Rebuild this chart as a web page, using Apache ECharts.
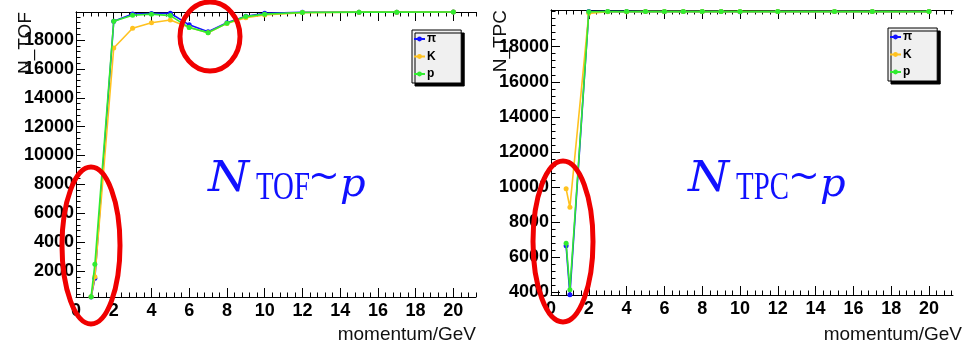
<!DOCTYPE html>
<html>
<head>
<meta charset="utf-8">
<script src="https://cdn.jsdelivr.net/npm/echarts@6/dist/echarts.min.js"></script>
<style>
  html, body { margin: 0; padding: 0; background: #fff; }
  #chart { width: 965px; height: 344px; }
</style>
</head>
<body>
<div id="chart"></div>
<script>
// Momentum points (GeV) shared by every curve
const momentum = [0.8, 1, 2, 3, 4, 5, 6, 7, 8, 9, 10, 12, 15, 17, 20];

// Number of tracks passing the TOF selection
const tofPi = [200, 1500, 19300, 19800, 19830, 19850, 19050, 18580, 19200, 19650, 19850, 19920, 19930, 19930, 19940];
const tofK  = [220, 1600, 17450, 18810, 19200, 19390, 18870, 18500, 19150, 19540, 19730, 19900, 19930, 19930, 19940];
const tofP  = [220, 2460, 19300, 19710, 19790, 19690, 18860, 18510, 19160, 19620, 19790, 19910, 19930, 19930, 19940];

// Number of tracks passing the TPC selection
const tpcPi = [6650, 3870, 20000, 20000, 20000, 20000, 20000, 20000, 20000, 20000, 19990, 20000, 20000, 20000, 20000];
const tpcK  = [9900, 8850, 19900, 19990, 19990, 20000, 20000, 20000, 20000, 20000, 20000, 20000, 20000, 20000, 20000];
const tpcP  = [6800, 4150, 19990, 20000, 20000, 20000, 20000, 20000, 20000, 20000, 20000, 20000, 20000, 20000, 20000];

// Tick labels
const xTicks = [0, 2, 4, 6, 8, 10, 12, 14, 16, 18, 20];
const tofYTicks = [2000, 4000, 6000, 8000, 10000, 12000, 14000, 16000, 18000];
const tpcYTicks = [4000, 6000, 8000, 10000, 12000, 14000, 16000, 18000];

const seriesNames = ['\u03c0', 'K', 'p'];
const seriesColors = ['#1414ff', '#ffc21f', '#30ec30'];

// five minor divisions between consecutive major ticks, kept inside [lo, hi]
function minorTicks(major, lo, hi) {
  const step = (major[1] - major[0]) / 5;
  const out = [];
  const start = major[0] - 5 * step;
  for (let v = start; v <= hi + 1e-9; v += step) {
    const r = Math.round(v * 1000) / 1000;
    if (r < lo || r > hi) continue;
    if (major.some(m => Math.abs(m - r) < 1e-6)) continue;
    out.push(r);
  }
  return out;
}

const labelFont = { fontFamily: 'Liberation Sans', fontSize: 18, fontWeight: 'bold', color: '#000' };
const black = { color: '#000', width: 1 };
const plain = v => String(v);

// ROOT-style frame: ticks on all four sides
function frame(grid, xMax, yMin, yMax, yTicks) {
  const xMin = minorTicks(xTicks, 0, xMax);
  const yMinor = minorTicks(yTicks, yMin, yMax);
  const xBase = { type: 'value', gridIndex: grid, min: 0, max: xMax, splitLine: { show: false } };
  const yBase = { type: 'value', gridIndex: grid, min: yMin, max: yMax, splitLine: { show: false } };
  const xAxes = [
    Object.assign({}, xBase, {
      position: 'bottom', axisLine: { show: true, lineStyle: black },
      axisTick: { show: true, inside: true, length: 9, customValues: xTicks, lineStyle: black },
      axisLabel: Object.assign({ show: true, customValues: xTicks, margin: 5, formatter: plain }, labelFont)
    }),
    Object.assign({}, xBase, {
      position: 'bottom', axisLine: { show: false },
      axisTick: { show: true, inside: true, length: 4.5, customValues: xMin, lineStyle: black },
      axisLabel: { show: false }
    }),
    Object.assign({}, xBase, {
      position: 'top', axisLine: { show: true, lineStyle: black },
      axisTick: { show: true, inside: true, length: 9, customValues: xTicks, lineStyle: black },
      axisLabel: { show: false }
    }),
    Object.assign({}, xBase, {
      position: 'top', axisLine: { show: false },
      axisTick: { show: true, inside: true, length: 4.5, customValues: xMin, lineStyle: black },
      axisLabel: { show: false }
    })
  ];
  const yAxes = [
    Object.assign({}, yBase, {
      position: 'left', axisLine: { show: true, lineStyle: black },
      axisTick: { show: true, inside: true, length: 9, customValues: yTicks, lineStyle: black },
      axisLabel: Object.assign({ show: true, customValues: yTicks, margin: 2, formatter: plain }, labelFont)
    }),
    Object.assign({}, yBase, {
      position: 'left', axisLine: { show: false },
      axisTick: { show: true, inside: true, length: 4.5, customValues: yMinor, lineStyle: black },
      axisLabel: { show: false }
    }),
    Object.assign({}, yBase, {
      position: 'right', axisLine: { show: true, lineStyle: black },
      axisTick: { show: true, inside: false, length: 7, customValues: yTicks, lineStyle: black },
      axisLabel: { show: false }
    }),
    Object.assign({}, yBase, {
      position: 'right', axisLine: { show: false },
      axisTick: { show: true, inside: false, length: 4, customValues: yMinor, lineStyle: black },
      axisLabel: { show: false }
    })
  ];
  return { xAxes, yAxes };
}

const tofFrame = frame(0, 21.2, 200, 19940, tofYTicks);
const tpcFrame = frame(1, 21.27, 3850, 20090, tpcYTicks);

function curves(values, axisOffset) {
  return values.map((vals, i) => ({
    name: seriesNames[i],
    type: 'line',
    xAxisIndex: axisOffset,
    yAxisIndex: axisOffset,
    data: momentum.map((m, k) => [m, vals[k]]),
    symbol: 'circle',
    symbolSize: 5,
    clip: false,
    color: seriesColors[i],
    lineStyle: { width: 1.6, color: seriesColors[i] },
    itemStyle: { color: seriesColors[i] },
    emphasis: { disabled: true },
    z: 2 + i
  }));
}

function legendBox(left, top) {
  return {
    show: true, orient: 'vertical', left: left, top: top,
    data: seriesNames,
    itemWidth: 11, itemHeight: 6, itemGap: 5.5,
    padding: [3, 25, 3, 1],
    backgroundColor: '#f0f0f0', borderColor: '#000', borderWidth: 1,
    shadowColor: '#000', shadowBlur: 0, shadowOffsetX: 3, shadowOffsetY: 3,
    selectedMode: false,
    textStyle: { fontFamily: 'Liberation Sans', fontSize: 12, fontWeight: 'bold', color: '#000', lineHeight: 12, padding: [0, 0, 0, -3] }
  };
}

const axisTitleFont = '19px "Liberation Sans"';
const mathFont = '"DejaVu Serif"';
const romanFont = '"Liberation Serif"';
const mathBlue = '#1010ff';

// N_{sub} ~ p written with an italic N and p and an upright subscript
function formula(x, sub) {
  return [
    { type: 'text', z: 50, x: x, y: 0, scaleX: 1.12,
      style: { x: 0, y: 201, text: 'N', font: 'italic 42px ' + mathFont, fill: mathBlue, verticalAlign: 'bottom' } },
    { type: 'text', z: 50, x: x + 48, y: 0, scaleX: 0.74,
      style: { x: 0, y: 208, text: sub, font: '39px ' + romanFont, fill: mathBlue, verticalAlign: 'bottom' } },
    { type: 'text', z: 50, style: { x: x + 100, y: 197, text: '~', font: '38px ' + mathFont, fill: mathBlue, verticalAlign: 'bottom' } },
    { type: 'text', z: 50, style: { x: x + 132, y: 206, text: 'p', font: 'italic 40px ' + mathFont, fill: mathBlue, verticalAlign: 'bottom' } }
  ];
}

function ring(cx, cy, rx, ry) {
  return { type: 'ellipse', z: 60, shape: { cx, cy, rx, ry }, style: { fill: null, stroke: '#f00000', lineWidth: 5 } };
}

const option = {
  animation: false,
  backgroundColor: '#fff',
  grid: [
    { left: 76, top: 12, width: 400, height: 285, outerBoundsMode: 'none', containLabel: false },
    { left: 551, top: 10, width: 402, height: 285, outerBoundsMode: 'none', containLabel: false }
  ],
  xAxis: tofFrame.xAxes.concat(tpcFrame.xAxes),
  yAxis: tofFrame.yAxes.concat(tpcFrame.yAxes),
  legend: [legendBox(412, 30), legendBox(888, 28)],
  series: curves([tofPi, tofK, tofP], 0).concat(curves([tpcPi, tpcK, tpcP], 4)),
  graphic: [
    { type: 'text', z: 40, x: 26, y: 12, rotation: Math.PI / 2,
      style: { text: 'N_TOF', font: axisTitleFont, fill: '#111', align: 'right', verticalAlign: 'middle' } },
    { type: 'text', z: 40, x: 501, y: 10, rotation: Math.PI / 2,
      style: { text: 'N_TPC', font: axisTitleFont, fill: '#111', align: 'right', verticalAlign: 'middle' } },
    { type: 'text', z: 40, style: { x: 476, y: 335, text: 'momentum/GeV', font: axisTitleFont, fill: '#111', align: 'right', verticalAlign: 'middle' } },
    { type: 'text', z: 40, style: { x: 962, y: 335, text: 'momentum/GeV', font: axisTitleFont, fill: '#111', align: 'right', verticalAlign: 'middle' } }
  ].concat(formula(208, 'TOF'), formula(688, 'TPC'), [
    ring(91, 245.5, 29, 78.5),
    ring(210, 36.5, 30, 34.5),
    ring(563, 241.5, 30, 80.5)
  ])
};

const chart = echarts.init(document.getElementById('chart'), null, { renderer: 'canvas' });
chart.setOption(option);
</script>
</body>
</html>
